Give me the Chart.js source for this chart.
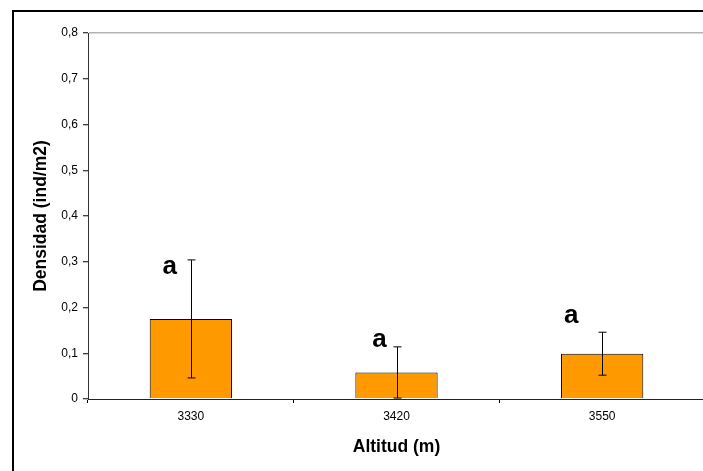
<!DOCTYPE html>
<html>
<head>
<meta charset="utf-8">
<script src="https://cdn.jsdelivr.net/npm/chart.js@4/dist/chart.umd.min.js"></script>
<style>
  html, body { margin: 0; padding: 0; overflow: hidden; background: #fff; }
  #wrap { position: relative; width: 712px; height: 471px; }
</style>
</head>
<body>
<div id="wrap"><canvas id="chart"></canvas></div>
<script>
// Altitude sites and mean density per site
const altitudes = ['3330', '3420', '3550'];
const density = [0.175, 0.058, 0.099];
// Error bar half-lengths
const densityError = [0.129, 0.056, 0.047];
// Significance letters and the value height of each letter's baseline
const sigLetters = ['a', 'a', 'a'];
const letterBaseline = [0.274, 0.114, 0.166];
// Y axis ticks
const yTicks = [0, 0.1, 0.2, 0.3, 0.4, 0.5, 0.6, 0.7, 0.8];

const FONT = '"Liberation Sans", Arial, Helvetica, sans-serif';

// Outer frame around the chart
const framePlugin = {
  id: 'frame',
  beforeDraw(chart) {
    const ctx = chart.ctx;
    ctx.save();
    ctx.fillStyle = '#fff';
    ctx.fillRect(0, 0, chart.width, chart.height);
    ctx.strokeStyle = '#000';
    ctx.lineWidth = 2;
    ctx.strokeRect(13, 11, chart.width + 20, chart.height + 20);
    ctx.restore();
  }
};

// Error bars with caps, and significance letters beside them
const errorBarPlugin = {
  id: 'errorBars',
  afterDatasetsDraw(chart, args, opts) {
    const ctx = chart.ctx;
    const y = chart.scales.y;
    const meta = chart.getDatasetMeta(0);
    ctx.save();
    ctx.strokeStyle = '#000';
    ctx.lineWidth = 1;
    meta.data.forEach((bar, i) => {
      const x = Math.round(bar.x) + 0.5;
      const top = y.getPixelForValue(density[i] + densityError[i]);
      const bot = y.getPixelForValue(density[i] - densityError[i]);
      const cap = opts.capWidth / 2;
      ctx.beginPath();
      ctx.moveTo(x, top); ctx.lineTo(x, bot);
      ctx.moveTo(x - cap, top); ctx.lineTo(x + cap, top);
      ctx.moveTo(x - cap, bot); ctx.lineTo(x + cap, bot);
      ctx.stroke();
    });
    ctx.fillStyle = '#000';
    ctx.font = 'bold 26px ' + FONT;
    ctx.textAlign = 'center';
    ctx.textBaseline = 'alphabetic';
    meta.data.forEach((bar, i) => {
      ctx.fillText(sigLetters[i], bar.x + opts.letterOffsets[i], y.getPixelForValue(letterBaseline[i]));
    });
    ctx.restore();
  }
};

new Chart(document.getElementById('chart'), {
  type: 'bar',
  data: {
    labels: altitudes,
    datasets: [{
      data: density,
      backgroundColor: '#FF9900',
      borderColor: '#000',
      borderWidth: 1,
      categoryPercentage: 1,
      barPercentage: 0.4
    }]
  },
  plugins: [framePlugin, errorBarPlugin],
  options: {
    responsive: true,
    maintainAspectRatio: false,
    animation: false,
    devicePixelRatio: 1,
    layout: { padding: { top: 33, right: 7, bottom: 0, left: 0 } },
    plugins: {
      legend: { display: false },
      tooltip: { enabled: false },
      errorBars: { capWidth: 8, letterOffsets: [-21, -17, -31] }
    },
    scales: {
      x: {
        offset: true,
        afterFit(scale) { scale.height = 72; },
        grid: {
          display: true,
          offset: true,
          drawOnChartArea: false,
          tickLength: 4,
          tickColor: '#000'
        },
        border: { display: true, color: '#222', width: 1 },
        ticks: { color: '#000', font: { family: FONT, size: 12 }, padding: 6 },
        title: {
          display: true,
          text: 'Altitud (m)',
          color: '#000',
          font: { family: FONT, size: 17.5, weight: 'bold' },
          padding: { top: 0, bottom: 13 }
        }
      },
      y: {
        min: 0,
        max: 0.8,
        afterFit(scale) { scale.width = 88; },
        afterBuildTicks(scale) { scale.ticks = yTicks.map(v => ({ value: v })); },
        grid: {
          display: true,
          drawOnChartArea: true,
          color: ctx => (ctx.tick && ctx.tick.value === 0.8) ? '#b3b3b3' : 'rgba(0,0,0,0)',
          lineWidth: 1.5,
          tickLength: 5,
          tickColor: '#000',
          tickWidth: 1
        },
        border: { display: true, color: '#333', width: 1 },
        ticks: {
          color: '#000',
          font: { family: FONT, size: 12 },
          padding: 5,
          callback: v => v === 0 ? '0' : v.toFixed(1).replace('.', ',')
        },
        title: {
          display: true,
          text: 'Densidad (ind/m2)',
          color: '#000',
          font: { family: FONT, size: 17.5, weight: 'bold' },
          padding: { top: 31, bottom: 0 }
        }
      }
    }
  }
});
</script>
</body>
</html>
